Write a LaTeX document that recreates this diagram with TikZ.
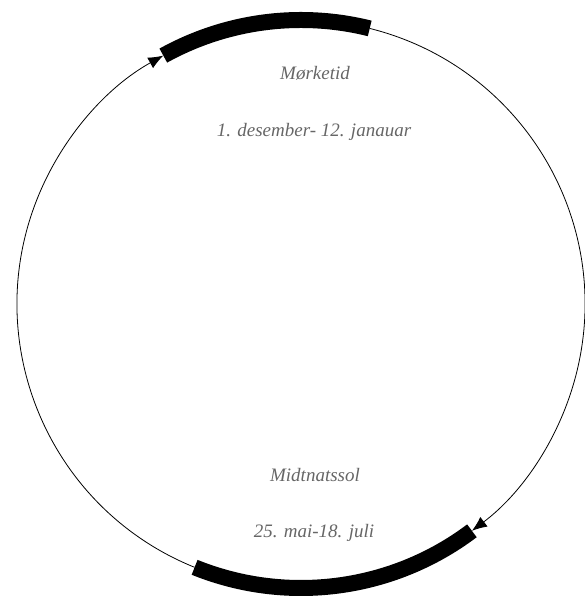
\documentclass[tikz,border=0pt]{standalone}
\usepackage{fontspec}
\setmainfont{Liberation Serif}
\usepackage{tikz}
\usetikzlibrary{arrows.meta}

\begin{document}
\begin{tikzpicture}[x=1pt, y=1pt,
		bar/.style={line width=16pt},
		flow/.style={line width=0.8pt, -{Latex[length=15pt, width=12pt]}},
		lbl/.style={text=black!60, font=\fontsize{19}{22}\selectfont\itshape}]
		\useasboundingbox (0,0) rectangle (585,599);
		% Points on the year circle:
		\coordinate (c) at (301,295);
		\coordinate (morkA) at ([shift={(119:284)}]c);
		\coordinate (morkB) at ([shift={(76:284)}]c);
		\coordinate (solA) at ([shift={(248:284)}]c);
		\coordinate (solB) at ([shift={(307:284)}]c);
		% Thin arcs with arrows:
		\draw[flow] (morkB) arc[start angle=76, end angle=-53, radius=284];
		\draw[flow] (solA) arc[start angle=248, end angle=119, radius=284];
		% Thick bars:
		\draw[bar] (morkA) arc[start angle=119, end angle=76, radius=284];
		\draw[bar] (solA) arc[start angle=248, end angle=307, radius=284];
		% Labels:
		\node[lbl] (morktitle) at (315,526) {Mørketid};
		\node[lbl] (morkdate) at (314,467) {1. desember- 12. janauar};
		\node[lbl] (soltitle) at (315,124) {Midtnatssol};
		\node[lbl] (soldate) at (314,66) {25. mai-18. juli};
	\end{tikzpicture}
\end{document}
